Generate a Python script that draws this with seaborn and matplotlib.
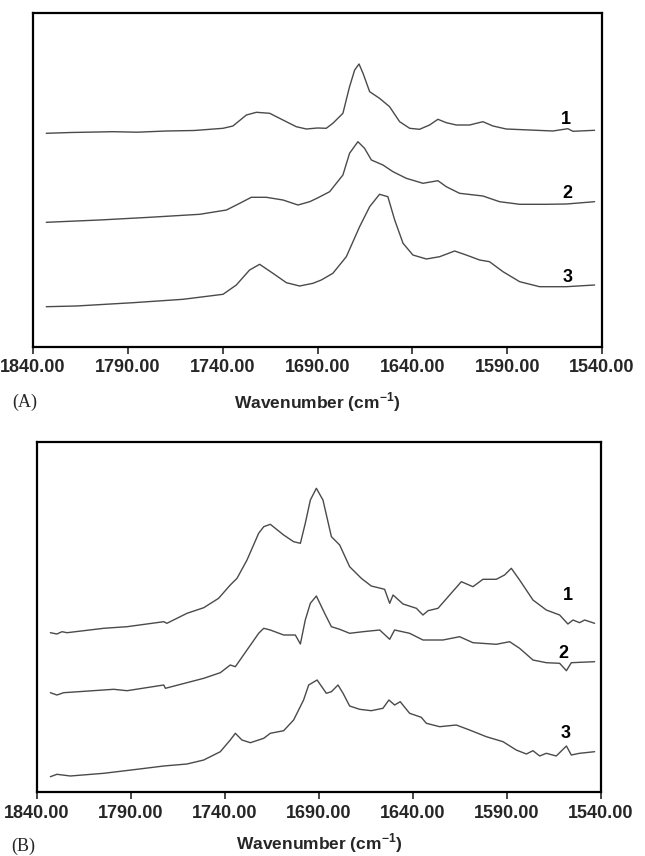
import numpy as np
import pandas as pd
import matplotlib
matplotlib.use("Agg")
import matplotlib.pyplot as plt
from matplotlib.ticker import StrMethodFormatter
import seaborn as sns

sns.set_style("white")
plt.rcParams['font.family'] = ['Liberation Sans', 'DejaVu Sans']
plt.rcParams['mathtext.fontset'] = 'custom'
plt.rcParams['mathtext.rm'] = 'Liberation Sans'
plt.rcParams['mathtext.bf'] = 'Liberation Sans:bold'

# ---- panel A spectra (wavenumber, absorbance in arbitrary units) ----
wn_a1 = [1833, 1820, 1797.8, 1785, 1769.7, 1755, 1739.8, 1734.6, 1727.5, 1722.2, 1715.2, 1710,
         1701.2, 1695.9, 1690, 1685.4, 1681.9, 1676.6, 1673.1, 1670.4, 1668.1, 1666, 1662.5,
         1657.3, 1652, 1646.7, 1641.4, 1636.2, 1630.9, 1626.5, 1622.1, 1616.8, 1609.8, 1602.8,
         1597.5, 1590.5, 1578.2, 1565.9, 1558, 1555.3, 1543.9]
ab_a1 = [213.7, 214.5, 215.3, 214.8, 216, 216.5, 218.7, 221, 232, 234.7, 233.7, 228.7,
         220.3, 218, 219, 218.7, 223.7, 233.7, 260.3, 277, 283, 273.7, 255.3,
         248.7, 240.3, 225.3, 218.7, 217.7, 222, 227.7, 224.3, 222, 222, 225.3,
         221, 218, 217, 216, 218.3, 215.7, 216.7]

wn_a2 = [1833, 1804.9, 1778.5, 1752.1, 1738, 1731, 1724.9, 1717, 1708.2, 1700.3, 1694.1,
         1690, 1683.6, 1676.6, 1673.1, 1668.7, 1665.2, 1661.6, 1655.5, 1650.2, 1643.2,
         1634.4, 1626.5, 1622.1, 1615.1, 1602.8, 1594, 1583.4, 1569.4, 1558.8, 1543.9]
ab_a2 = [124.7, 127, 129.7, 132.7, 137, 143.7, 149.7, 149.7, 147, 142, 145.3,
         149, 155.3, 172, 193.7, 205.3, 198.7, 187, 182, 175.3, 168.7,
         163.7, 166.3, 160.3, 153.7, 151, 145.3, 142.7, 142.7, 143, 145.3]

wn_a3 = [1833, 1817.2, 1787.3, 1760.9, 1739.8, 1732.8, 1725.8, 1720.5, 1713.5, 1706.4,
         1699.4, 1692.4, 1688, 1681.9, 1674.8, 1667.8, 1662.5, 1657.3, 1652.9, 1649.3,
         1644.9, 1639.7, 1632.6, 1625.6, 1617.7, 1611.6, 1604.5, 1599.3, 1592.2, 1583.4,
         1572.9, 1558.8, 1543.9]
ab_a3 = [40.3, 41, 44.3, 47.7, 52.7, 62, 77, 82.7, 73.7, 64.3,
         61, 63.7, 67, 73.7, 90.3, 120.3, 140.3, 152.7, 150.3, 127,
         103.7, 92, 88, 90.3, 96, 92, 87, 85.3, 75.3, 65.3,
         60.3, 60.3, 62]

# ---- panel B spectra ----
wn_b1 = [1832.9, 1829.4, 1826.7, 1824, 1804.5, 1792.1, 1772.6, 1770.9, 1760.2, 1751.3,
         1743.4, 1737.2, 1733.6, 1728.3, 1722.1, 1719.4, 1715.9, 1708.8, 1703.5, 1699.9,
         1697.3, 1694.6, 1691.4, 1687.9, 1683.4, 1679, 1673.7, 1667.5, 1662.2, 1655.1,
         1652.4, 1650.6, 1645.3, 1638.2, 1634.7, 1632, 1626.7, 1620.5, 1614.3, 1608.1,
         1602.8, 1595.7, 1591.3, 1587.7, 1583.3, 1576.2, 1569.1, 1562, 1557.6, 1554.9,
         1551.4, 1548.7, 1543.4]
ab_b1 = [159.3, 158, 160.3, 159.3, 163.7, 165.3, 170.3, 168.7, 178.7, 184.3,
         193.7, 207, 213.7, 232, 258.7, 265.3, 267.7, 257, 250.3, 248.7,
         268.7, 292, 303.7, 292, 255.3, 247, 225.3, 213.7, 206, 202.7,
         188.7, 197, 188, 183.7, 177, 181.3, 183.7, 197, 210.3, 205.3,
         212.7, 212.7, 217, 223.7, 212, 192, 182, 177, 168, 172,
         169.3, 172, 168.7]

wn_b2 = [1832.9, 1829.4, 1825.8, 1799.2, 1792.1, 1772.6, 1771.7, 1751.3, 1742.5, 1737.2,
         1734.5, 1728.3, 1722.1, 1719.4, 1715.9, 1708.8, 1702.6, 1699.9, 1697.3, 1694.6,
         1691.4, 1687, 1683.4, 1679, 1673.7, 1666.6, 1657.7, 1652.4, 1649.8, 1641.8,
         1634.7, 1624.1, 1615.2, 1608.1, 1595.7, 1588.6, 1583.3, 1576.2, 1569.1, 1562,
         1558.4, 1555.8, 1543.4]
ab_b2 = [99.3, 97, 99.3, 102.7, 101.3, 107, 103.7, 113.7, 119.3, 127,
         125.3, 142, 158.7, 163.7, 162, 157, 157, 148, 172, 188.7,
         196, 178.7, 165.3, 162.7, 158.7, 160.3, 162, 152.7, 162, 158.7,
         152, 152, 155.3, 149.3, 147.7, 150.3, 143.7, 132, 129.3, 128.7,
         121.3, 129.3, 130.3]

wn_b3 = [1832.9, 1829.4, 1822.3, 1804.5, 1786.8, 1772.6, 1760.2, 1751.3, 1742.5, 1737.2,
         1734.5, 1731, 1726.5, 1719.4, 1715.9, 1708.8, 1703.5, 1698.2, 1695.5, 1691,
         1686.1, 1683.4, 1679.9, 1677.2, 1673.7, 1668.4, 1662.2, 1656, 1652.8, 1649.8,
         1646.8, 1641.8, 1635.6, 1632.9, 1625.8, 1617, 1609.9, 1601, 1592.1, 1585.1,
         1579.7, 1576.2, 1572.6, 1569.1, 1563.8, 1558.4, 1555.8, 1551.4, 1543.4]
ab_b3 = [15.3, 17.7, 16, 18.7, 22.7, 26, 28, 32, 40.3, 52,
         58.7, 52, 49.3, 53.7, 58.7, 61.3, 72, 92, 107, 112,
         98.7, 100.3, 107, 98.7, 86, 82.7, 81.3, 83.7, 92, 87,
         90.3, 78.7, 74.7, 68.7, 65.3, 67, 62, 55.3, 50.3, 42,
         38, 41.3, 36, 38.7, 36, 46, 37, 38.7, 40.3]

curve_labels = ["1", "2", "3"]
label_wn_a = [1559, 1558.5, 1558]
label_ab_a = [227, 154, 69]
label_wn_b = [1557.6, 1560, 1559]
label_ab_b = [196, 138.7, 58.7]

ticks = [1840, 1790, 1740, 1690, 1640, 1590, 1540]

fig = plt.figure(figsize=(6.45, 8.56), dpi=100)
ax_a = fig.add_axes([33 / 645, 1 - 347 / 856, 569 / 645, 334 / 856])
ax_b = fig.add_axes([37 / 645, 1 - 792 / 856, 564 / 645, 350 / 856])

line_color = "#4a4a4a"


def draw_panel(ax, series, lab_wn, lab_ab, ytop, lpad):
    for wn, ab in series:
        sns.lineplot(x=wn, y=ab, ax=ax, color=line_color, linewidth=1.0,
                     estimator=None, sort=False, solid_joinstyle="round")
    for t, xw, yv in zip(curve_labels, lab_wn, lab_ab):
        ax.text(xw, yv, t, ha="center", va="center", fontsize=13,
                fontweight="bold", color="black")
    ax.set_xlim(1840, 1540)
    ax.set_ylim(0, ytop)
    ax.set_xticks(ticks)
    ax.xaxis.set_major_formatter(StrMethodFormatter("{x:.2f}"))
    ax.set_yticks([])
    ax.set_ylabel("")
    ax.tick_params(axis="x", direction="out", length=5, width=1.2, pad=4,
                   labelsize=13, bottom=True)
    for lab in ax.get_xticklabels():
        lab.set_fontweight("bold")
    for sp in ax.spines.values():
        sp.set_visible(True)
        sp.set_color("black")
        sp.set_linewidth(1.6)
    ax.set_xlabel(r"Wavenumber (cm$^{\mathbf{-1}}$)", fontsize=12.5,
                  fontweight="bold", labelpad=lpad)


draw_panel(ax_a, [(wn_a1, ab_a1), (wn_a2, ab_a2), (wn_a3, ab_a3)],
           label_wn_a, label_ab_a, 334, 10)
draw_panel(ax_b, [(wn_b1, ab_b1), (wn_b2, ab_b2), (wn_b3, ab_b3)],
           label_wn_b, label_ab_b, 350, 7)

fig.text(25 / 645, 1 - 402 / 856, "(A)", family="Liberation Serif",
         fontsize=13, ha="center", va="center")
fig.text(23 / 645, 1 - 846 / 856, "(B)", family="Liberation Serif",
         fontsize=13, ha="center", va="center")

fig.savefig("out.png", dpi=100)
